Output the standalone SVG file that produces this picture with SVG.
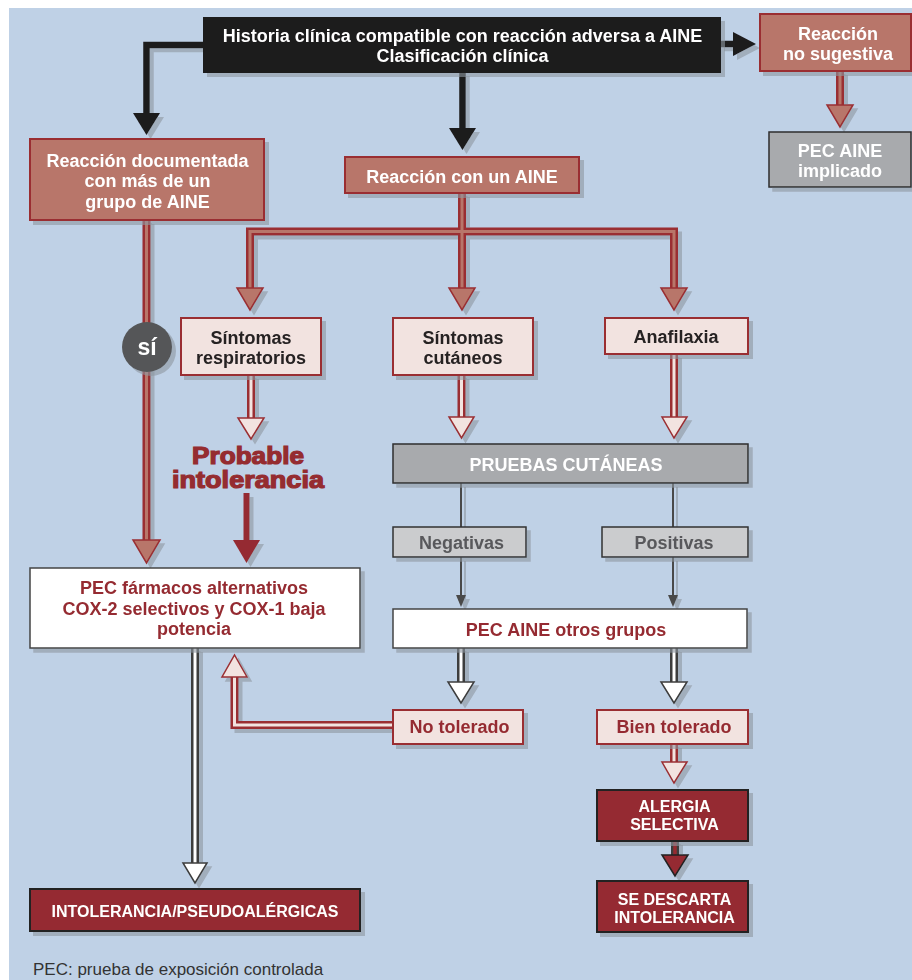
<svg xmlns="http://www.w3.org/2000/svg" width="912" height="980" viewBox="0 0 912 980">
<defs>
<filter id="sh" filterUnits="userSpaceOnUse" x="0" y="0" width="912" height="980">
<feOffset in="SourceAlpha" dx="4" dy="4" result="o"/>
<feFlood flood-color="#8e96a0" flood-opacity="0.6"/>
<feComposite in2="o" operator="in"/>
<feMerge><feMergeNode/><feMergeNode in="SourceGraphic"/></feMerge>
</filter>
</defs>
<style>
text{font-family:"Liberation Sans",Arial,sans-serif;font-weight:bold;text-anchor:middle}
.t18{font-size:18px}
.t16{font-size:16px}
.w{fill:#ffffff}
.dk{fill:#262223}
.rd{fill:#952C30}
.gy{fill:#58595B}
.big{font-size:23px;stroke:#952C30;stroke-width:1.2}
.salmon{fill:#B8766A;stroke:#9A2F33;stroke-width:2}
.pink{fill:#F2E3E0;stroke:#9A2F33;stroke-width:2}
.gray{fill:#A8AAAD;stroke:#2f2f2f;stroke-width:1.5}
.lgray{fill:#CBCCCE;stroke:#333333;stroke-width:1.5}
.white{fill:#ffffff;stroke:#444444;stroke-width:1.5}
.dred{fill:#952C30;stroke:#222222;stroke-width:2}
.blk{fill:none;stroke:#1C1A1B;stroke-width:6.5}
.blkh{fill:#1C1A1B}
.ro{fill:none;stroke:#9A2F33;stroke-width:8}
.gro{fill:none;stroke:#3c3c3c;stroke-width:8}
.si{fill:none;stroke:#B8766A;stroke-width:3}
.pi{fill:none;stroke:#F2E3E0;stroke-width:3}
.wi{fill:none;stroke:#ffffff;stroke-width:3}
.di{fill:none;stroke:#952C30;stroke-width:3.5}
.sh{fill:#B8766A;stroke:#9A2F33;stroke-width:1.5}
.ph{fill:#F2E3E0;stroke:#9A2F33;stroke-width:1.5}
.wh{fill:#ffffff;stroke:#3c3c3c;stroke-width:1.5}
.dh{fill:#952C30;stroke:#222222;stroke-width:1.5}
.thin{fill:none;stroke:#4a4a4a;stroke-width:2}
</style>
<rect x="0" y="0" width="912" height="980" fill="#ffffff"/>
<rect x="9" y="8" width="903" height="972" fill="#BFD1E6"/>

<g id="connectors" filter="url(#sh)">
  <path class="blk" d="M205,45 H146.5 V114"/>
  <polygon class="blkh" points="133,113 160,113 146.5,135"/>
  <path class="blk" d="M462.5,72 V129"/>
  <polygon class="blkh" points="449,128 476,128 462.5,150"/>
  <path class="blk" d="M720,44 H735"/>
  <polygon class="blkh" points="733,32 733,56 756,44"/>

  <path class="ro" d="M840,71 V106"/>
  <path class="ro" d="M146.5,220 V541"/>
  <path class="ro" d="M462,193 V290 M250,290 V231.5 H674 V290"/>
  <path class="si" d="M840,70 V106"/>
  <path class="si" d="M146.5,219 V541"/>
  <path class="si" d="M462,192 V290 M250,290 V231.5 H674 V290"/>
  <polygon class="sh" points="827,105 853,105 840,127"/>
  <polygon class="sh" points="133,540 160,540 146.5,563"/>
  <polygon class="sh" points="237,288 263,288 250,310"/>
  <polygon class="sh" points="449,288 475,288 462,310"/>
  <polygon class="sh" points="661,288 687,288 674,310"/>

  <path class="ro" d="M251,375 V419"/>
  <path class="ro" d="M461.5,375 V418"/>
  <path class="ro" d="M674,354 V418"/>
  <path class="ro" d="M393,725 H234.5 V676"/>
  <path class="ro" d="M674,744 V763"/>
  <path class="pi" d="M251,374 V419"/>
  <path class="pi" d="M461.5,374 V418"/>
  <path class="pi" d="M674,353 V418"/>
  <path class="pi" d="M394,725 H234.5 V676"/>
  <path class="pi" d="M674,743 V763"/>
  <polygon class="ph" points="238,418 264,418 251,439"/>
  <polygon class="ph" points="449,417 474,417 461.5,438"/>
  <polygon class="ph" points="662,417 687,417 674,438"/>
  <polygon class="ph" points="222,677 247,677 234.5,655"/>
  <polygon class="ph" points="662,762 687,762 674,783"/>

  <path class="thin" d="M461,483 V527 M673,483 V527 M461,557 V597 M673,557 V597"/>
  <polygon fill="#4a4a4a" points="456,595 466,595 461,607"/>
  <polygon fill="#4a4a4a" points="668,595 678,595 673,607"/>

  <path class="gro" d="M461,648 V683"/>
  <path class="gro" d="M674,648 V683"/>
  <path class="gro" d="M195,648 V864"/>
  <path class="wi" d="M461,647 V683"/>
  <path class="wi" d="M674,647 V683"/>
  <path class="wi" d="M195,647 V864"/>
  <polygon class="wh" points="448,682 474,682 461,703"/>
  <polygon class="wh" points="661,682 687,682 674,703"/>
  <polygon class="wh" points="183,863 207,863 195,883"/>

  <path class="gro" d="M675,841 V856"/>
  <path class="di" d="M675,840 V856"/>
  <polygon class="dh" points="662,855 688,855 675,876"/>
  <path fill="none" stroke="#952C30" stroke-width="6" d="M246.5,493 V541"/>
  <polygon fill="#952C30" points="233,540 260,540 246.5,563"/>
</g>

<g id="n_historia" filter="url(#sh)">
  <rect x="203" y="17" width="518" height="56" fill="#1C1A1B"/>
  <text class="t18 w" x="462.5" y="42">Historia clínica compatible con reacción adversa a AINE</text>
  <text class="t18 w" x="462.5" y="62">Clasificación clínica</text>
</g>
<g id="n_nosugestiva" filter="url(#sh)">
  <rect class="salmon" x="760" y="14" width="151" height="57"/>
  <text class="t18 w" x="838" y="40">Reacción</text>
  <text class="t18 w" x="838" y="60">no sugestiva</text>
</g>
<g id="n_pec_implicado" filter="url(#sh)">
  <rect class="gray" x="769" y="132" width="142" height="55"/>
  <text class="t18 w" x="840" y="157">PEC AINE</text>
  <text class="t18 w" x="840" y="177">implicado</text>
</g>
<g id="n_documentada" filter="url(#sh)">
  <rect class="salmon" x="30" y="139" width="234" height="81"/>
  <text class="t18 w" x="147.5" y="167">Reacción documentada</text>
  <text class="t18 w" x="147.5" y="187">con más de un</text>
  <text class="t18 w" x="147.5" y="208">grupo de AINE</text>
</g>
<g id="n_con_un" filter="url(#sh)">
  <rect class="salmon" x="345" y="157" width="234" height="36"/>
  <text class="t18 w" x="462" y="183">Reacción con un AINE</text>
</g>
<g id="n_si" filter="url(#sh)">
  <circle cx="147" cy="347" r="25" fill="#555759"/>
  <text class="w" x="147" y="355" style="font-size:23px">sí</text>
</g>
<g id="n_resp" filter="url(#sh)">
  <rect class="pink" x="181" y="318" width="140" height="57"/>
  <text class="t18 dk" x="251" y="344">Síntomas</text>
  <text class="t18 dk" x="251" y="364">respiratorios</text>
</g>
<g id="n_cut" filter="url(#sh)">
  <rect class="pink" x="393" y="318" width="140" height="57"/>
  <text class="t18 dk" x="463" y="344">Síntomas</text>
  <text class="t18 dk" x="463" y="364">cutáneos</text>
</g>
<g id="n_anaf" filter="url(#sh)">
  <rect class="pink" x="605" y="318" width="143" height="36"/>
  <text class="t18 dk" x="676" y="343">Anafilaxia</text>
</g>
<g id="n_probable">
  <text class="rd big" x="248" y="464" textLength="112" lengthAdjust="spacingAndGlyphs">Probable</text>
  <text class="rd big" x="248" y="488" textLength="152" lengthAdjust="spacingAndGlyphs">intolerancia</text>
</g>
<g id="n_pruebas" filter="url(#sh)">
  <rect class="gray" x="393" y="444" width="355" height="39"/>
  <text class="t18 w" x="566" y="471">PRUEBAS CUTÁNEAS</text>
</g>
<g id="n_neg" filter="url(#sh)">
  <rect class="lgray" x="393" y="527" width="133" height="30"/>
  <text class="t18 gy" x="461.5" y="549">Negativas</text>
</g>
<g id="n_pos" filter="url(#sh)">
  <rect class="lgray" x="602" y="527" width="146" height="30"/>
  <text class="t18 gy" x="674" y="549">Positivas</text>
</g>
<g id="n_pec_alt" filter="url(#sh)">
  <rect class="white" x="30" y="568" width="330" height="80"/>
  <text class="t18 rd" x="194" y="594">PEC fármacos alternativos</text>
  <text class="t18 rd" x="194" y="615">COX-2 selectivos y COX-1 baja</text>
  <text class="t18 rd" x="194" y="635">potencia</text>
</g>
<g id="n_pec_otros" filter="url(#sh)">
  <rect class="white" x="393" y="609" width="354" height="39"/>
  <text class="t18 rd" x="566" y="636">PEC AINE otros grupos</text>
</g>
<g id="n_no_tol" filter="url(#sh)">
  <rect class="pink" x="393" y="710" width="130" height="34"/>
  <text class="t18 rd" x="459.5" y="733">No tolerado</text>
</g>
<g id="n_bien" filter="url(#sh)">
  <rect class="pink" x="597" y="710" width="151" height="34"/>
  <text class="t18 rd" x="674" y="733">Bien tolerado</text>
</g>
<g id="n_alergia" filter="url(#sh)">
  <rect class="dred" x="597" y="790" width="151" height="51"/>
  <text class="t16 w" x="674.5" y="812">ALERGIA</text>
  <text class="t16 w" x="674.5" y="830">SELECTIVA</text>
</g>
<g id="n_descarta" filter="url(#sh)">
  <rect class="dred" x="597" y="881" width="151" height="51"/>
  <text class="t16 w" x="674.5" y="905">SE DESCARTA</text>
  <text class="t16 w" x="674.5" y="923">INTOLERANCIA</text>
</g>
<g id="n_intol" filter="url(#sh)">
  <rect class="dred" x="30" y="889" width="330" height="42"/>
  <text class="t16 w" x="195" y="917">INTOLERANCIA/PSEUDOALÉRGICAS</text>
</g>
<text x="33" y="975" style="font-size:17px;font-weight:normal;text-anchor:start;fill:#333333">PEC: prueba de exposición controlada</text>
</svg>
